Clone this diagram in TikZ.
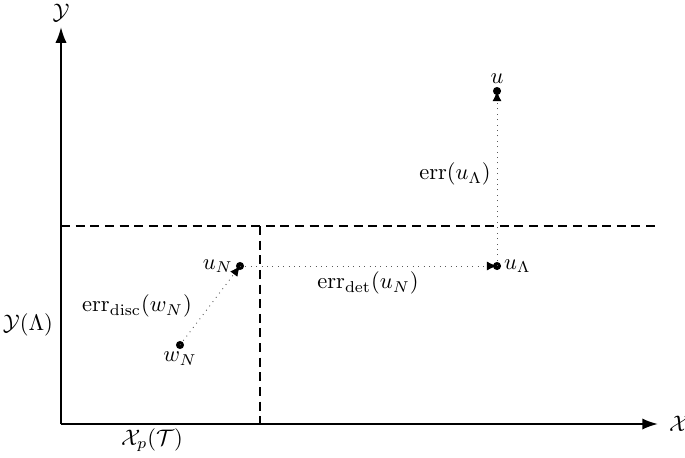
\documentclass[tikz,border=0pt]{standalone}
\usepackage{amsmath}
\usetikzlibrary{arrows.meta,positioning}

\begin{document}
\begin{tikzpicture}[
  x=0.4444pt, y=-0.4444pt,
  axis/.style={-{Latex[length=7pt,width=5pt]}, line width=0.9pt},
  split/.style={line width=0.9pt, dash pattern=on 4pt off 2.5pt},
  pt/.style={circle, fill, inner sep=0pt, minimum size=3.6pt},
  errline/.style={-{Latex[length=4.5pt,width=4pt,color=black]}, dotted, gray!70!black, thin},
  node distance=1mm
]
\useasboundingbox (0,0) rectangle (685,457);

% axes
\coordinate (O) at (61,424);
\coordinate (ytop) at (61,27);
\coordinate (xend) at (658,424);
\draw[axis] (O) -- (ytop);
\draw[axis] (O) -- (xend);
\node (ylab) at (61,13) {$\mathcal{Y}$};
\node[right=0.5mm of xend] (xlab) {$\mathcal{X}$};

% subspace boundaries
\coordinate (hl) at (61,226);
\coordinate (hr) at (658,226);
\coordinate (vt) at (260,226);
\coordinate (vb) at (260,424);
\draw[split] (hl) -- (hr);
\draw[split] (vt) -- (vb);
\node (ylam) at (28,325) {$\mathcal{Y}(\Lambda)$};
\node (xpt) at (152,440) {$\mathcal{X}_p(\mathcal{T})$};

% points
\node[pt, label={[inner sep=1pt]above:$u$}] (u) at (497,91) {};
\node[pt, label={[inner sep=1pt]right:$u_\Lambda$}] (uL) at (497,266) {};
\node[pt, label={[inner sep=1pt]left:$u_N$}] (uN) at (240,266) {};
\node[pt, label={[inner sep=1pt]below:$w_N$}] (wN) at (180,345) {};

% error arrows
\draw[errline] (uL.center) -- (u.center);
\draw[errline] (uN.center) -- (uL.center);
\draw[errline] (wN.center) -- (uN.center);

% error labels
\node (e1) at (455,174) {$\mathrm{err}(u_\Lambda)$};
\node (e2) at (368,283) {$\mathrm{err}_{\mathrm{det}}(u_N)$};
\node (e3) at (137,306) {$\mathrm{err}_{\mathrm{disc}}(w_N)$};
\end{tikzpicture}
\end{document}
